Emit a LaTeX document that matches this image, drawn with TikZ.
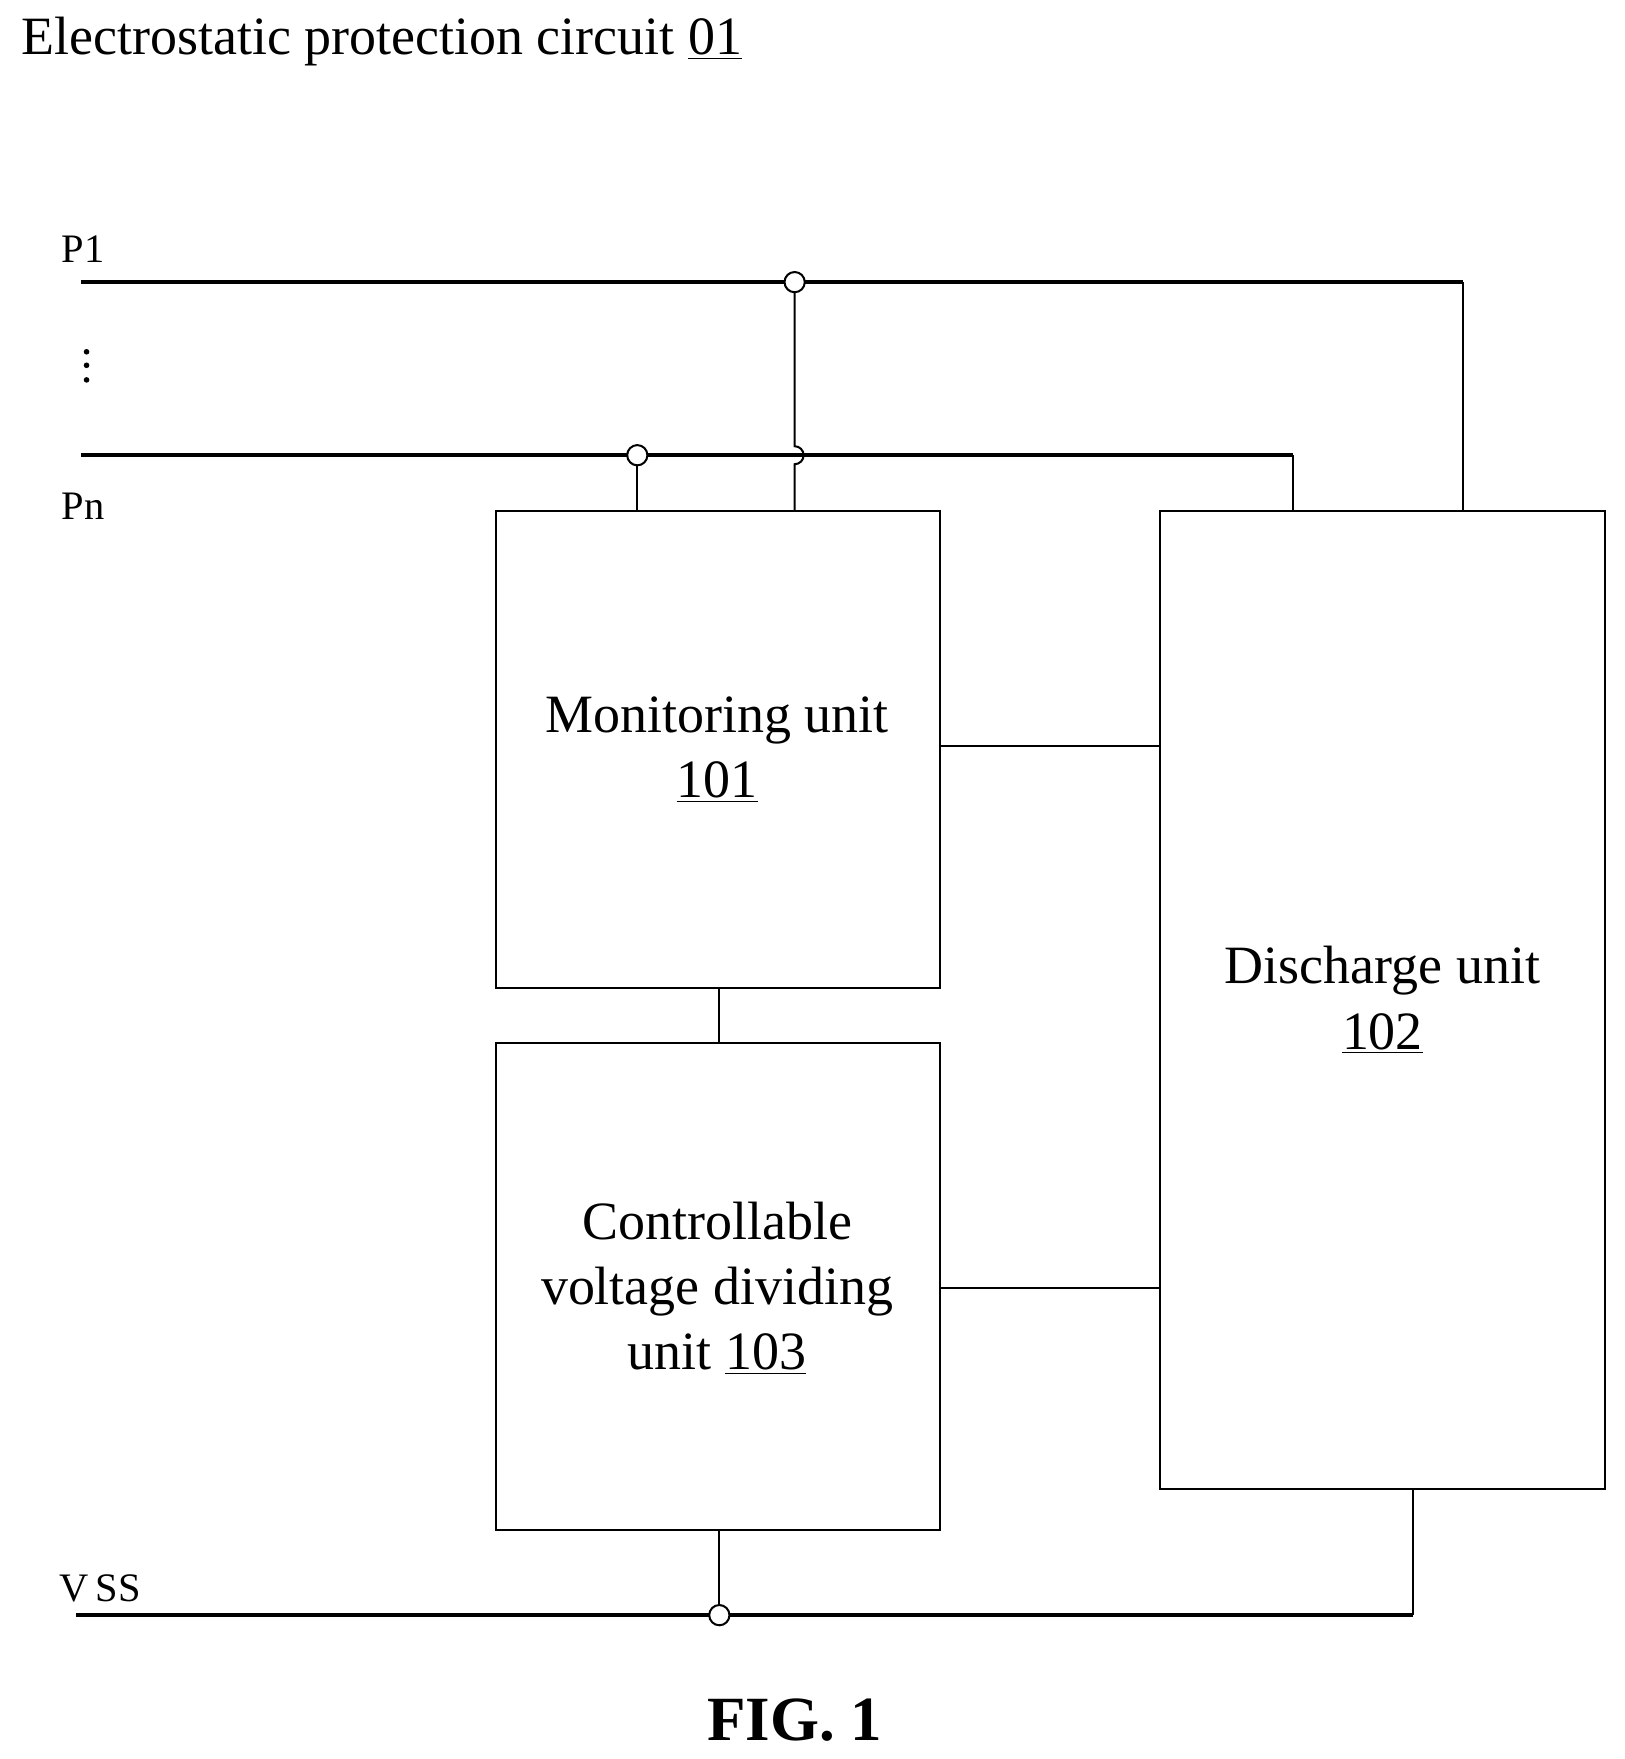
\documentclass[tikz,border=0pt]{standalone}
\usepackage{fontspec}
\setmainfont{Liberation Serif}
\begin{document}
\begin{tikzpicture}[x=0.5pt,y=-0.5pt,
  bus/.style={line width=1.6pt},
  wire/.style={line width=0.9pt},
  box/.style={draw,line width=0.9pt},
  term/.style={circle,draw,line width=0.9pt,fill=white,minimum size=9pt,inner sep=0pt},
  lab/.style={font=\fontsize{24}{29}\selectfont,align=center},
  pin/.style={font=\fontsize{18}{20}\selectfont,anchor=west}]
\useasboundingbox (0,0) rectangle (1445,1565);
\node[anchor=west,font=\fontsize{24}{28}\selectfont] (title) at (12,37) {Electrostatic protection circuit \underline{01}};
\draw[box] (441,455) rectangle (836,879);
\node[lab] (mon) at (638,667) {Monitoring unit\\\underline{101}};
\draw[box] (441,928) rectangle (836,1361);
\node[lab] (ctl) at (638,1146) {Controllable\\voltage dividing\\unit \underline{103}};
\draw[box] (1032,455) rectangle (1428,1325);
\node[lab] (dis) at (1230,890) {Discharge unit\\\underline{102}};
\node[pin] (p1) at (48,222) {P1};
\node[pin] (pn) at (48,450) {Pn};
\node[pin] (vss) at (46,1413) {V\,SS};
\foreach \yy in {313,325,338} \fill (77,\yy) circle (2.5);
\coordinate (p1s) at (72,251); \coordinate (p1c) at (1302,251); \coordinate (p1e) at (1302,455);
\coordinate (pns) at (72,405); \coordinate (pnc) at (1150,405); \coordinate (pne) at (1150,455);
\coordinate (vs) at (68,1437); \coordinate (vc) at (1257,1437); \coordinate (ve) at (1257,1325);
\draw[bus] (p1s) -- (p1c);
\draw[wire] (p1c) -- (p1e);
\draw[bus] (pns) -- (pnc);
\draw[wire] (pnc) -- (pne);
\draw[bus] (vs) -- (vc);
\draw[wire] (vc) -- (ve);
\draw[wire] (707,251) -- (707,397) arc[start angle=-90,end angle=90,radius=8] -- (707,455);
\draw[wire] (567,405) -- (567,455);
\draw[wire] (640,1361) -- (640,1437);
\draw[wire] (640,879) -- (640,928);
\draw[wire] (836,664) -- (1032,664);
\draw[wire] (836,1146) -- (1032,1146);
\node[term] (t1) at (707,251) {};
\node[term] (t2) at (567,405) {};
\node[term] (t3) at (640,1437) {};
\node[font=\fontsize{28}{32}\selectfont\bfseries] (fig) at (707,1530) {FIG. 1};
\end{tikzpicture}
\end{document}
